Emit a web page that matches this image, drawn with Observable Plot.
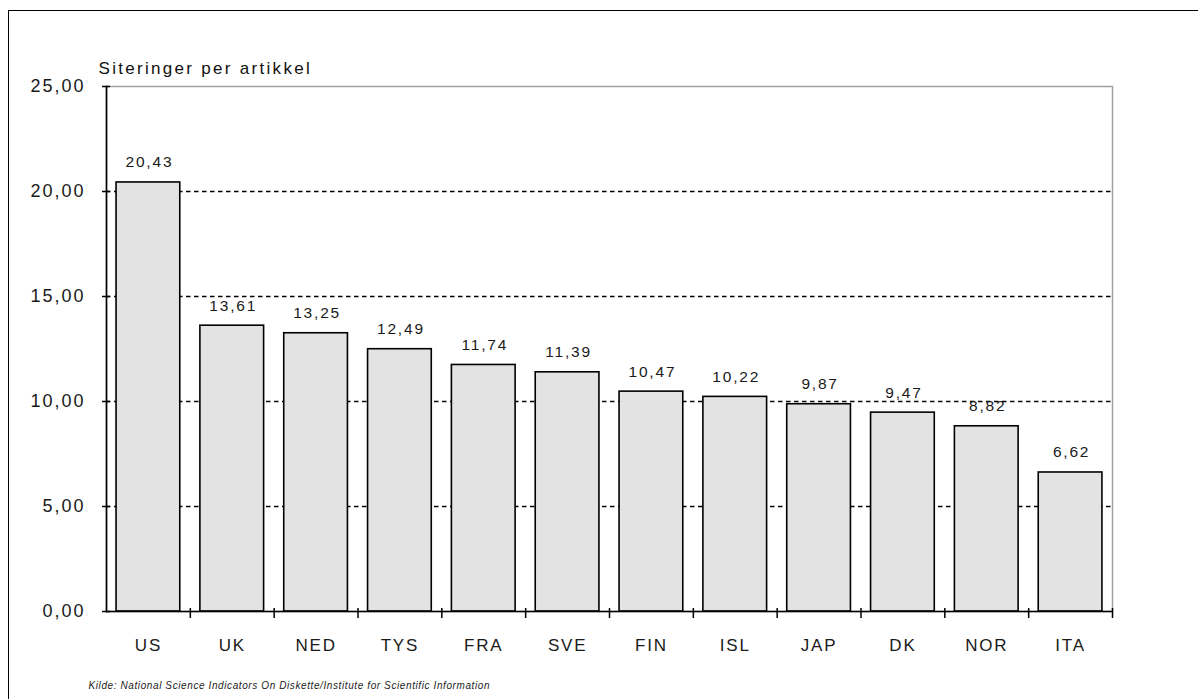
<!DOCTYPE html>
<html>
<head>
<meta charset="utf-8">
<script src="https://cdn.jsdelivr.net/npm/d3@7"></script>
<script src="https://cdn.jsdelivr.net/npm/@observablehq/plot@0.6"></script>
<style>
  html, body { margin: 0; padding: 0; background: #fff; }
  #wrap { position: relative; width: 1198px; height: 699px; overflow: hidden; }
  #edge { position: absolute; left: 8px; top: 10px; right: -5px; bottom: -5px;
          border-top: 1.5px solid #000; border-left: 1.5px solid #000; pointer-events: none; }
  svg { display: block; }
  g[aria-label="y-axis tick label"] text { letter-spacing: 2px; }
  g[aria-label="x-axis tick label"] text { letter-spacing: 1.8px; }
</style>
</head>
<body>
<div id="wrap"><div id="edge"></div></div>
<script>
const countries = ["US", "UK", "NED", "TYS", "FRA", "SVE", "FIN", "ISL", "JAP", "DK", "NOR", "ITA"];
const citations = [20.43, 13.61, 13.25, 12.49, 11.74, 11.39, 10.47, 10.22, 9.87, 9.47, 8.82, 6.62];
const yTicks = [0, 5, 10, 15, 20, 25];
const gridTicks = [5, 10, 15, 20];
const yTitle = "Siteringer per artikkel";
const source = "Kilde: National Science Indicators On Diskette/Institute for Scientific Information";

const data = countries.map((c, i) => ({country: c, value: citations[i]}));
const comma = d => d.toFixed(2).replace(".", ",");
const font = "'Liberation Sans', Arial, sans-serif";

const W = 1198, H = 699;
const mL = 106, mR = 86, mT = 86, mB = 88;
const step = (W - mL - mR) / countries.length;

// render hook to set letter spacing on a text mark's group
const spacing = (px) => (index, scales, values, dimensions, context, next) => {
  const g = next(index, scales, values, dimensions, context);
  if (g) g.querySelectorAll("text").forEach(t => t.style.letterSpacing = px + "px");
  return g;
};

const chart = Plot.plot({
  width: W,
  height: H,
  marginLeft: mL,
  marginRight: mR,
  marginTop: mT,
  marginBottom: mB,
  style: {fontFamily: font, background: "transparent", overflow: "visible"},
  x: {domain: countries, paddingInner: 0.24, paddingOuter: 0.12, round: false, label: null},
  y: {domain: [0, 25], label: null},
  marks: [
    Plot.frame({stroke: "#a0a0a0", strokeWidth: 1.5}),
    Plot.gridY(gridTicks, {stroke: "#000", strokeOpacity: 1, strokeDasharray: "4.5,3.5", strokeWidth: 1.5}),
    Plot.barY(data, {x: "country", y: "value", fill: "#e3e3e3", stroke: "#000", strokeWidth: 1.6}),
    Plot.text(data, {x: "country", y: "value", text: d => comma(d.value), dy: -20, dx: 1,
      fontSize: 15.5, fill: "#1a1a1a", render: spacing(1.8)}),
    Plot.ruleY([0], {stroke: "#000", strokeWidth: 1.6}),
    Plot.frame({anchor: "left", stroke: "#000", strokeWidth: 1.6}),
    // y ticks crossing axis
    Plot.axisY(yTicks, {tickSize: 8, dx: 4, tickFormat: null, text: null, stroke: "#000", strokeWidth: 1.5}),
    Plot.axisY(yTicks, {tickSize: 0, tickPadding: 21, tickFormat: comma, fontSize: 18, fill: "#1a1a1a", label: null}),
    // x ticks at category boundaries
    Plot.axisX(countries, {tickSize: 10, dx: step / 2, dy: -3, tickFormat: null, text: null, stroke: "#000", strokeWidth: 1.5}),
    Plot.axisX(countries, {tickSize: 0, tickPadding: 27, fontSize: 17, fill: "#1a1a1a", dx: 0, label: null}),
    Plot.text([yTitle], {frameAnchor: "top-left", text: d => d, dx: -8, dy: -25, textAnchor: "start",
      fontSize: 17, fill: "#111", render: spacing(2.3)}),
    Plot.text([source], {frameAnchor: "bottom-left", text: d => d, dx: -18, dy: 77, textAnchor: "start",
      fontSize: 10, fontStyle: "italic", fill: "#222", render: spacing(0.6)})
  ]
});
document.getElementById("wrap").prepend(chart);
</script>
</body>
</html>
